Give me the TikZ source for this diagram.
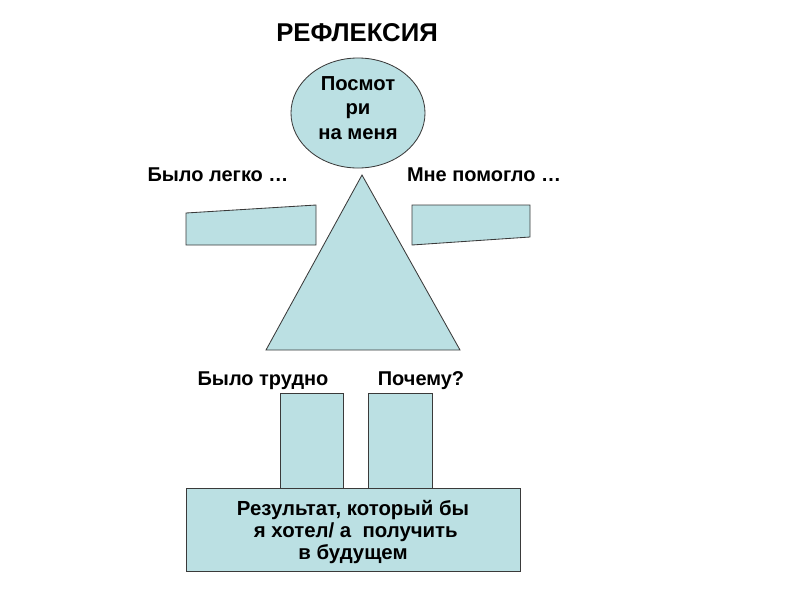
\documentclass[tikz,border=0pt]{standalone}
\usepackage{fontspec}
\setmainfont{Liberation Sans}
\usetikzlibrary{shapes.geometric}
\definecolor{partblue}{HTML}{BBE0E3}
\definecolor{partline}{HTML}{3A3A3A}

\begin{document}
\begin{tikzpicture}[x=0.025cm,y=-0.025cm,
  part/.style={draw=partline,fill=partblue,line width=0.6pt},
  lbl/.style={font=\bfseries\fontsize{14.2}{17}\selectfont,inner sep=0pt,align=center}]
  \useasboundingbox (0,0) rectangle (800,600);

  \node[lbl,font=\bfseries\fontsize{18.3}{20}\selectfont] (title) at (357,33) {РЕФЛЕКСИЯ};

  % head
  \node[part,ellipse,minimum width=3.35cm,minimum height=2.75cm] (head) at (358,113) {};
  \node[lbl,font=\bfseries\fontsize{14.4}{17.6}\selectfont] (headtext) at (358,108) {Посмот\\ри\\на меня};

  % body and arms
  \draw[part] (362,175) -- (460,350) -- (266,350) -- cycle;
  \draw[part] (186,213) -- (316,205) -- (316,245) -- (186,245) -- cycle;
  \draw[part] (412,205) -- (530,205) -- (530,237) -- (412,245) -- cycle;

  \node[lbl] (easy) at (218,175) {Было легко …};
  \node[lbl] (helped) at (484,175) {Мне помогло …};

  % legs
  \draw[part] (280,393) rectangle (343,488);
  \draw[part] (368,393) rectangle (432,488);
  \node[lbl] (hard) at (263,381) {Было трудно};
  \node[lbl] (why) at (421,381) {Почему?};

  % base
  \draw[part] (186,488) rectangle (520,571);
  \node[lbl,font=\bfseries\fontsize{14.5}{15.6}\selectfont] (result) at (353,532) {Результат, который бы\\\ я хотел/ а~ получить\\в будущем};
\end{tikzpicture}
\end{document}
